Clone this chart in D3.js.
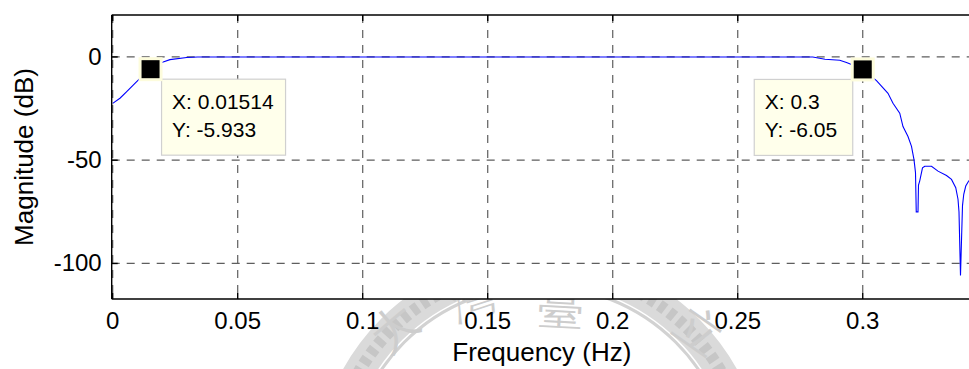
<!DOCTYPE html>
<html>
<head>
<meta charset="utf-8">
<script src="https://cdn.jsdelivr.net/npm/d3@7"></script>
<style>
  html, body { margin: 0; padding: 0; background: #fff; }
  svg { display: block; }
  text { font-family: Arial, "Liberation Sans", sans-serif; }
</style>
</head>
<body>
<script>
// Frequency response of the band-pass filter (magnitude in dB)
const freq = [0, 0.0029, 0.0056, 0.0082, 0.0109, 0.01514, 0.0202, 0.0229, 0.0296, 0.034,
  0.05, 0.1, 0.15, 0.2, 0.25, 0.28, 0.2849, 0.2908, 0.2935, 0.2955, 0.3,
  0.3055, 0.3101, 0.3121, 0.3148, 0.3161, 0.3181, 0.3195, 0.3205, 0.3211, 0.3214, 0.3221, 0.3223,
  0.3228, 0.3239, 0.3248, 0.3275, 0.3301, 0.3335, 0.3355, 0.3372, 0.3381, 0.3385, 0.3391,
  0.3399, 0.3404, 0.3412, 0.3424, 0.3437];
const magDb = [-22.5, -20, -16.8, -13.6, -10.4, -5.933, -2.4, -1.3, -0.3, -0.05,
  0, 0, 0, 0, 0, 0, -1.1, -1.6, -2.7, -3.7, -6.05,
  -11.5, -17.6, -22.4, -27.2, -33.7, -38.5, -43.3, -49.7, -56, -75, -75, -62,
  -60, -53.7, -52.9, -52.9, -55.3, -57.4, -59.3, -63.3, -68.9, -75.1, -105.8,
  -72, -66.5, -62.5, -60, -59.5];

// Data cursors
const tipX = [0.01514, 0.3];
const tipY = [-5.933, -6.05];
const tipSide = ["right", "left"];

// Axis ticks
const xTicks = [0, 0.05, 0.1, 0.15, 0.2, 0.25, 0.3];
const xTickLabels = ["0", "0.05", "0.1", "0.15", "0.2", "0.25", "0.3"];
const yTicks = [-100, -50, 0];
const yTickLabels = ["-100", "-50", "0"];

// Seal characters printed behind the page
const sealChars = ["大", "灣", "臺", "立"];

const W = 969, H = 369;
const svg = d3.select("body").append("svg").attr("width", W).attr("height", H);

const x = d3.scaleLinear().domain([-0.0004, 0.3437]).range([111.7, 972]);
const y = d3.scaleLinear().domain([-117.2, 20.3]).range([299, 15]);
const [x0, x1] = x.range();
const [yb, yt] = y.range();

// faint seal watermark
const seal = svg.append("g");
seal.append("circle").attr("cx", 540).attr("cy", 478).attr("r", 210)
  .attr("fill", "none").attr("stroke", "#dadada").attr("stroke-width", 30);
seal.append("circle").attr("cx", 540).attr("cy", 478).attr("r", 210)
  .attr("fill", "none").attr("stroke", "#c6c6c6").attr("stroke-width", 12)
  .attr("stroke-dasharray", "7,5");
seal.append("circle").attr("cx", 540).attr("cy", 478).attr("r", 192)
  .attr("fill", "none").attr("stroke", "#d2d2d2").attr("stroke-width", 3);
const sealPos = [[405, 340, -40], [478, 314, -18], [560, 324, 3], [690, 344, 35]];
seal.selectAll("text.seal").data(sealChars).join("text")
  .attr("class", "seal")
  .attr("font-family", "'Noto Sans CJK TC', 'Noto Sans CJK SC', sans-serif")
  .attr("font-size", 46).attr("fill", "#cdcdcd").attr("text-anchor", "middle")
  .attr("transform", (d, i) => `translate(${sealPos[i][0]},${sealPos[i][1]}) rotate(${sealPos[i][2]})`)
  .text(d => d);

// axes background
svg.append("rect").attr("x", x0).attr("y", yt).attr("width", x1 - x0).attr("height", yb - yt)
  .attr("fill", "#fff");

// grid
const grid = svg.append("g").attr("stroke", "#5e5e5e").attr("stroke-width", 1.2)
  .attr("stroke-dasharray", "8,7");
grid.selectAll("line.gx").data(xTicks).join("line").attr("class", "gx")
  .attr("x1", d => x(d)).attr("x2", d => x(d)).attr("y1", yt).attr("y2", yb);
grid.selectAll("line.gy").data(yTicks).join("line").attr("class", "gy")
  .attr("y1", d => y(d)).attr("y2", d => y(d)).attr("x1", x0).attr("x2", x1);

// curve
svg.append("clipPath").attr("id", "plotClip").append("rect")
  .attr("x", x0).attr("y", yt).attr("width", x1 - x0).attr("height", yb - yt);
const pts = freq.map((f, i) => [f, magDb[i]]);
svg.append("path").datum(pts)
  .attr("clip-path", "url(#plotClip)")
  .attr("fill", "none").attr("stroke", "#0000ff").attr("stroke-width", 1.1)
  .attr("d", d3.line().x(d => x(d[0])).y(d => y(d[1])));

// axes box and inward ticks
const ax = svg.append("g").attr("stroke", "#000").attr("stroke-width", 1.4);
ax.append("line").attr("x1", x0).attr("x2", x1).attr("y1", yb).attr("y2", yb);
ax.append("line").attr("x1", x0).attr("x2", x1).attr("y1", yt).attr("y2", yt);
ax.append("line").attr("x1", x0).attr("x2", x0).attr("y1", yt).attr("y2", yb);
ax.selectAll("line.tb").data(xTicks).join("line").attr("class", "tb")
  .attr("x1", d => x(d)).attr("x2", d => x(d)).attr("y1", yb).attr("y2", yb - 6);
ax.selectAll("line.tt").data(xTicks).join("line").attr("class", "tt")
  .attr("x1", d => x(d)).attr("x2", d => x(d)).attr("y1", yt).attr("y2", yt + 6);
ax.selectAll("line.tl").data(yTicks).join("line").attr("class", "tl")
  .attr("y1", d => y(d)).attr("y2", d => y(d)).attr("x1", x0).attr("x2", x0 + 6);

// tick labels
svg.selectAll("text.xt").data(xTicks).join("text").attr("class", "xt")
  .attr("x", d => x(d)).attr("y", yb + 30).attr("text-anchor", "middle")
  .attr("font-size", 24).attr("fill", "#000")
  .text((d, i) => xTickLabels[i]);
svg.selectAll("text.yt").data(yTicks).join("text").attr("class", "yt")
  .attr("x", x0 - 10).attr("y", d => y(d)).attr("dy", "0.32em").attr("text-anchor", "end")
  .attr("font-size", 24).attr("fill", "#000")
  .text((d, i) => yTickLabels[i]);

// axis titles
svg.append("text").attr("x", (x0 + x1) / 2).attr("y", 361).attr("text-anchor", "middle")
  .attr("font-size", 26).attr("fill", "#000").text("Frequency (Hz)");
svg.append("text").attr("transform", `translate(33,${(yt + yb) / 2}) rotate(-90)`)
  .attr("text-anchor", "middle").attr("font-size", 26).attr("fill", "#000")
  .text("Magnitude (dB)");

// data tips
tipX.forEach((fx, i) => {
  const cx = x(fx), cy = y(tipY[i]);
  const g = svg.append("g");
  const lines = ["X: " + fx, "Y: " + tipY[i]];
  const bw = i === 0 ? 124 : 98.5, bh = 76;
  const bx = tipSide[i] === "right" ? cx + 11 : cx - 10 - bw;
  const by = cy + 10;
  g.append("rect").attr("x", bx).attr("y", by).attr("width", bw).attr("height", bh)
    .attr("fill", "#ffffeb").attr("stroke", "#d0d0d0").attr("stroke-width", 1.2);
  g.selectAll("text").data(lines).join("text")
    .attr("x", bx + 10.5).attr("y", (d, k) => by + 30 + k * 28)
    .attr("font-size", 21).attr("fill", "#000").text(d => d);
  g.append("rect").attr("x", cx - 12).attr("y", cy - 12).attr("width", 24).attr("height", 24)
    .attr("fill", "#fdfcdc");
  g.append("rect").attr("x", cx - 9).attr("y", cy - 9).attr("width", 18).attr("height", 18)
    .attr("fill", "#000");
});
</script>
</body>
</html>
